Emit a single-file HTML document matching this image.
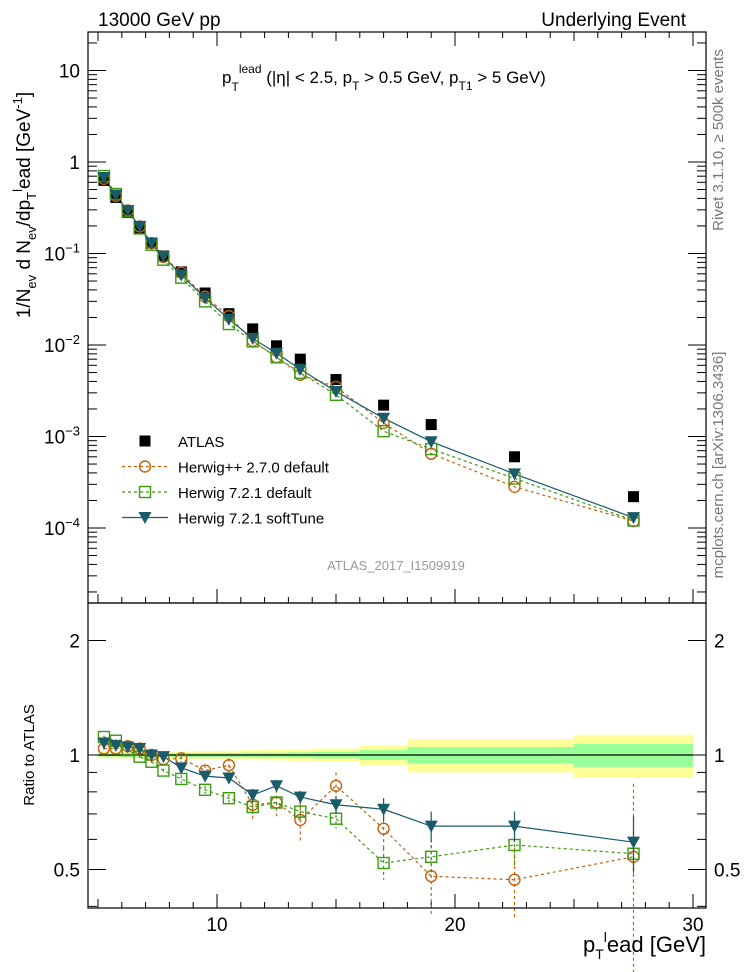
<!DOCTYPE html>
<html><head><meta charset="utf-8"><style>
body{margin:0;background:#fff}
svg{display:block;font-family:"Liberation Sans",sans-serif}
</style></head><body>
<svg id="c" width="746" height="972" viewBox="0 0 746 972">
<rect x="0" y="0" width="746" height="972" fill="#fff"/>
<g id="bands"></g>
<g id="grid"></g>
<g id="marks"></g>
<rect x="88" y="32" width="618" height="571" fill="none" stroke="#000" stroke-width="1.2"/>
<rect x="88" y="603" width="618" height="305" fill="none" stroke="#000" stroke-width="1.2"/>
<text x="98" y="26" font-size="19">13000 GeV pp</text>
<text x="686" y="26" font-size="19" text-anchor="end">Underlying Event</text>
<text x="222" y="83" font-size="17">p<tspan dy="8" font-size="12">T</tspan><tspan dy="-18" font-size="12">lead</tspan><tspan dy="10"> (|η| &lt; 2.5, p</tspan><tspan dy="7" font-size="12">T</tspan><tspan dy="-7"> &gt; 0.5 GeV, p</tspan><tspan dy="7" font-size="12">T1</tspan><tspan dy="-7"> &gt; 5 GeV)</tspan></text>
<text x="396" y="570" font-size="13" fill="#999" text-anchor="middle">ATLAS_2017_I1509919</text>
<text transform="translate(723,140) rotate(-90)" font-size="15" fill="#777" text-anchor="middle">Rivet 3.1.10, ≥ 500k events</text>
<text transform="translate(723,465) rotate(-90)" font-size="15" fill="#777" text-anchor="middle">mcplots.cern.ch [arXiv:1306.3436]</text>
<text transform="translate(30,205) rotate(-90)" font-size="19" text-anchor="middle">1/N<tspan dy="6" font-size="13">ev</tspan><tspan dy="-6"> d N</tspan><tspan dy="6" font-size="13">ev</tspan><tspan dy="-6">/dp</tspan><tspan dy="6" font-size="13">T</tspan><tspan dy="-14" font-size="13">l</tspan><tspan dy="8">ead [GeV</tspan><tspan dy="-8" font-size="13">-1</tspan><tspan dy="8">]</tspan></text>
<text transform="translate(34,755) rotate(-90)" font-size="15" text-anchor="middle">Ratio to ATLAS</text>
<text x="706" y="952" font-size="22" text-anchor="end">p<tspan dy="7" font-size="14">T</tspan><tspan dy="-17" font-size="14">l</tspan><tspan dy="10">ead [GeV]</tspan></text>
<g id="legend"></g>
</svg>
<script>
const xVals=[5.25,5.75,6.25,6.75,7.25,7.75,8.5,9.5,10.5,11.5,12.5,13.5,15,17,19,22.5,27.5];
const atlas=[0.63,0.41,0.28,0.19,0.13,0.094,0.063,0.037,0.022,0.015,0.0098,0.0070,0.0042,0.0022,0.00135,0.0006,0.00022];
const ratioHpp=[1.04,1.04,1.055,1.04,1.0,0.975,0.98,0.91,0.94,0.74,0.75,0.675,0.83,0.64,0.48,0.47,0.54];
const ratioH721=[1.115,1.09,1.03,0.99,0.96,0.91,0.865,0.81,0.77,0.73,0.75,0.71,0.68,0.52,0.54,0.58,0.55];
const ratioSoft=[1.075,1.06,1.05,1.04,1.0,0.99,0.925,0.88,0.87,0.785,0.83,0.775,0.74,0.72,0.65,0.65,0.59];
const errHpp=[0.01,0.01,0.01,0.01,0.01,0.02,0.02,0.03,0.04,0.06,0.06,0.08,0.07,0.08,0.1,0.1,0.3];
const errH721=[0.01,0.01,0.01,0.01,0.01,0.01,0.02,0.02,0.02,0.03,0.03,0.03,0.04,0.05,0.06,0.07,0.08];
const errSoft=[0.01,0.01,0.01,0.01,0.01,0.01,0.02,0.02,0.03,0.03,0.03,0.03,0.04,0.05,0.06,0.06,0.1];
const binEdges=[5,5.5,6,6.5,7,7.5,8,9,10,11,12,13,14,16,18,20,25,30];
const bandStat=[0.01,0.01,0.01,0.01,0.01,0.01,0.012,0.012,0.012,0.014,0.014,0.016,0.02,0.03,0.05,0.05,0.07];
const bandTot=[0.02,0.02,0.02,0.02,0.02,0.02,0.022,0.024,0.026,0.03,0.032,0.035,0.04,0.06,0.1,0.1,0.13];
const xTicks=[10,20,30];
const yTicksMain=[1,0,-1,-2,-3,-4];
const ratioTicks=[2,1,0.5];

const NS="http://www.w3.org/2000/svg";
const X=v=>217+(v-10)*23.8;
const YM=v=>162-Math.log10(v)*91.5;
const YR=v=>755-Math.log2(v)*114.5;
function el(tag,attrs,parent){const e=document.createElementNS(NS,tag);for(const k in attrs)e.setAttribute(k,attrs[k]);parent.appendChild(e);return e;}
const bands=document.getElementById('bands'),grid=document.getElementById('grid'),marks=document.getElementById('marks'),leg=document.getElementById('legend');

for(let i=0;i<bandTot.length;i++){
  const x0=X(binEdges[i]),x1=X(binEdges[i+1]);
  const y=el('rect',{x:x0,y:YR(1+bandTot[i]),width:x1-x0,height:YR(1-bandTot[i])-YR(1+bandTot[i]),fill:'#ffff99'},bands);
  
  
  const g=el('rect',{x:x0,y:YR(1+bandStat[i]),width:x1-x0,height:YR(1-bandStat[i])-YR(1+bandStat[i]),fill:'#99ff99'},bands);
  
  
}
el('line',{x1:X(5),x2:X(30),y1:YR(1),y2:YR(1),stroke:'#000','stroke-width':1.2},bands);

for(let v=5;v<=30;v++){
  const big=v%10===0,mid=v%5===0;const L=big?14:(mid?9:6);
  el('line',{x1:X(v),x2:X(v),y1:603,y2:603-L,stroke:'#000'},grid);
  el('line',{x1:X(v),x2:X(v),y1:908,y2:908-L,stroke:'#000'},grid);
  el('line',{x1:X(v),x2:X(v),y1:32,y2:32+L,stroke:'#000'},grid);
}
xTicks.forEach(v=>{const t=el('text',{x:X(v),y:931,'font-size':19,'text-anchor':'middle'},grid);t.textContent=v;

});
for(let d=-5;d<=1;d++){for(let m=1;m<10;m++){const v=m*Math.pow(10,d);const y=YM(v);if(y<32||y>603)continue;const L=m===1?18:9;
el('line',{x1:88,x2:88+L,y1:y,y2:y,stroke:'#000'},grid);el('line',{x1:706,x2:706-L,y1:y,y2:y,stroke:'#000'},grid);}}
yTicksMain.forEach(d=>{const t=el('text',{x:80,y:YM(Math.pow(10,d))+7,'font-size':19,'text-anchor':'end'},grid);


if(d===1)t.textContent='10';else if(d===0)t.textContent='1';else{t.innerHTML='10<tspan dy="-8" font-size="13">'+(d===-1?'−1':'−'+(-d))+'</tspan>';}});
[0.2,0.3,0.4,0.5,0.6,0.7,0.8,0.9,1,2].forEach(v=>{const y=YR(v);if(y<603||y>908)return;const L=(v===1||v===2||v===0.5)?18:9;
el('line',{x1:88,x2:88+L,y1:y,y2:y,stroke:'#000'},grid);el('line',{x1:706,x2:706-L,y1:y,y2:y,stroke:'#000'},grid);});
ratioTicks.forEach(v=>{[[80,'end'],[714,'start']].forEach(([x,a])=>{const t=el('text',{x:x,y:YR(v)+7,'font-size':19,'text-anchor':a},grid);t.textContent=v;

});});

const series=[
 {r:ratioHpp,e:errHpp,c:'#c0620f',dash:'3,3',m:'circle',name:'herwigpp-270'},
 {r:ratioH721,e:errH721,c:'#3a9a10',dash:'3,3',m:'square',name:'herwig-721'},
 {r:ratioSoft,e:errSoft,c:'#1b5a69',dash:'',m:'tri',name:'herwig-721-softtune'}];
function marker(m,x,y,c,parent,name){
  let e;
  if(m==='circle')e=el('circle',{cx:x,cy:y,r:5.5,fill:'none',stroke:c,'stroke-width':1.4},parent);
  else if(m==='square')e=el('rect',{x:x-5.5,y:y-5.5,width:11,height:11,fill:'none',stroke:c,'stroke-width':1.4},parent);
  else if(m==='tri')e=el('polygon',{points:`${x-6.5},${y-5.5} ${x+6.5},${y-5.5} ${x},${y+6.5}`,fill:c},parent);
  else e=el('rect',{x:x-5.5,y:y-5.5,width:11,height:11,fill:'#000'},parent);
  
  
  return e;
}
series.forEach(s=>{
  const vals=s.r.map((r,i)=>r*atlas[i]);
  const pl=el('polyline',{points:vals.map((v,i)=>X(xVals[i])+','+YM(v)).join(' '),fill:'none',stroke:s.c,'stroke-width':1.2,'stroke-dasharray':s.dash},marks);
  
  
  const rl=el('polyline',{points:s.r.map((v,i)=>X(xVals[i])+','+YR(v)).join(' '),fill:'none',stroke:s.c,'stroke-width':1.2,'stroke-dasharray':s.dash},marks);
  
  
});
atlas.forEach((v,i)=>marker('sq',X(xVals[i]),YM(v),'#000',marks,'atlas-point'));
series.forEach(s=>{
  s.r.forEach((r,i)=>{
    const x=X(xVals[i]);
    marker(s.m,x,YM(r*atlas[i]),s.c,marks,s.name+'-point');
    const eb=el('line',{x1:x,x2:x,y1:YR(r+s.e[i]),y2:YR(Math.max(r-s.e[i],0.17)),stroke:s.c,'stroke-width':1.2,'stroke-dasharray':s.dash},marks);
    
    
    marker(s.m,x,YR(r),s.c,marks,s.name+'-ratio-point');
  });
});
const legItems=[['sq','#000','ATLAS',''],['circle','#c0620f','Herwig++ 2.7.0 default','3,3'],['square','#3a9a10','Herwig 7.2.1 default','3,3'],['tri','#1b5a69','Herwig 7.2.1 softTune','']];
legItems.forEach((l,i)=>{const y=441+i*25.5;
  if(i>0){const ln=el('line',{x1:122,x2:168,y1:y,y2:y,stroke:l[1],'stroke-width':1.2,'stroke-dasharray':l[3]},leg);
  
  }
  marker(l[0],145,y,l[1],leg,'legend-marker');
  const t=el('text',{x:178,y:y+6,'font-size':15},leg);t.textContent=l[2];
  
  
});
</script>
</body></html>
